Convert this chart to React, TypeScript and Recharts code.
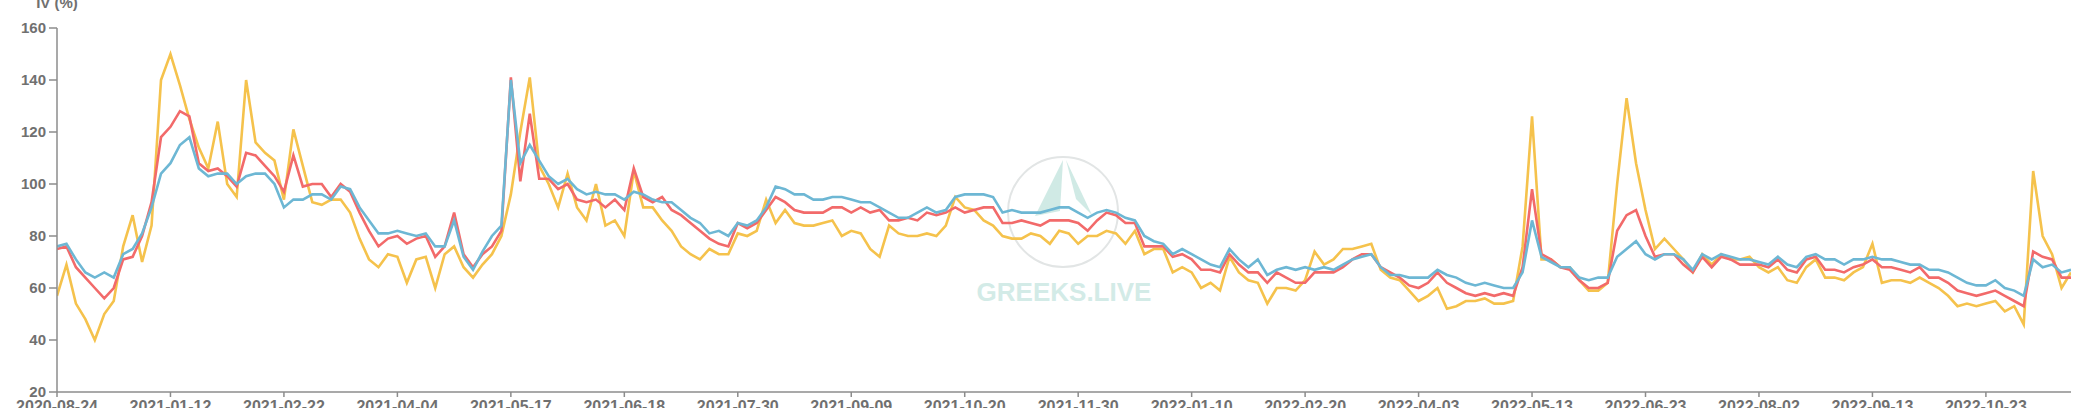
import React from 'react';
import { LineChart, Line, XAxis, YAxis } from 'recharts';

// Sampled IV values (%), one sample every ~3.4 days, left to right
const ivShort = [
  57, 69, 54, 48, 40, 50, 55, 76, 88, 70, 84, 140, 150, 138, 125, 114, 106, 124, 100, 95,
  140, 116, 112, 109, 94, 121, 107, 93, 92, 94, 94, 89, 79, 71, 68, 73, 72, 62, 71, 72,
  60, 73, 76, 68, 64, 69, 73, 80, 96, 120, 141, 107, 100, 91, 104, 91, 86, 100, 84, 86,
  80, 105, 91, 91, 86, 82, 76, 73, 71, 75, 73, 73, 81, 80, 82, 94, 85, 90, 85, 84,
  84, 85, 86, 80, 82, 81, 75, 72, 84, 81, 80, 80, 81, 80, 84, 95, 91, 90, 86, 84,
  80, 79, 79, 81, 80, 77, 82, 81, 77, 80, 80, 82, 81, 77, 82, 73, 75, 75, 66, 68,
  66, 60, 62, 59, 72, 66, 63, 62, 54, 60, 60, 59, 63, 74, 69, 71, 75, 75, 76, 77,
  67, 64, 63, 59, 55, 57, 60, 52, 53, 55, 55, 56, 54, 54, 55, 76, 126, 71, 71, 68,
  68, 63, 59, 59, 62, 100, 133, 108, 90, 75, 79, 75, 71, 66, 73, 69, 73, 71, 71, 72,
  68, 66, 68, 63, 62, 68, 71, 64, 64, 63, 66, 68, 77, 62, 63, 63, 62, 64, 62, 60,
  57, 53, 54, 53, 54, 55, 51, 53, 46, 105, 80, 73, 60, 66,
];
const ivMid = [
  75, 76, 68, 64, 60, 56, 60, 71, 72, 80, 93, 118, 122, 128, 126, 108, 105, 106, 103, 99,
  112, 111, 107, 103, 97, 111, 99, 100, 100, 95, 100, 97, 89, 82, 76, 79, 80, 77, 79, 80,
  72, 76, 89, 73, 68, 73, 76, 82, 141, 101, 127, 102, 102, 98, 100, 94, 93, 94, 91, 94,
  90, 106, 95, 93, 95, 90, 88, 85, 82, 79, 77, 76, 85, 83, 85, 90, 95, 93, 90, 89,
  89, 89, 91, 91, 89, 91, 89, 90, 86, 86, 87, 86, 89, 88, 89, 91, 89, 90, 91, 91,
  85, 85, 86, 85, 84, 86, 86, 86, 85, 82, 86, 89, 88, 85, 85, 76, 76, 76, 72, 73,
  71, 67, 67, 66, 73, 69, 66, 66, 62, 66, 64, 62, 62, 66, 66, 66, 68, 71, 73, 73,
  68, 66, 64, 61, 60, 62, 66, 62, 60, 58, 57, 58, 57, 58, 57, 68, 98, 73, 71, 68,
  67, 63, 60, 60, 62, 82, 88, 90, 80, 72, 73, 73, 69, 66, 72, 68, 72, 71, 69, 69,
  69, 68, 71, 67, 66, 71, 72, 67, 67, 66, 68, 69, 71, 68, 68, 67, 66, 68, 64, 64,
  62, 59, 58, 57, 58, 59, 57, 55, 53, 74, 72, 71, 64, 64,
];
const ivLong = [
  76, 77, 71, 66, 64, 66, 64, 73, 75, 81, 91, 104, 108, 115, 118, 106, 103, 104, 104, 100,
  103, 104, 104, 100, 91, 94, 94, 96, 96, 94, 99, 98, 91, 86, 81, 81, 82, 81, 80, 81,
  76, 76, 86, 72, 67, 74, 80, 84, 140, 108, 115, 109, 103, 100, 102, 98, 96, 97, 96, 96,
  94, 97, 96, 94, 93, 93, 90, 87, 85, 81, 82, 80, 85, 84, 86, 91, 99, 98, 96, 96,
  94, 94, 95, 95, 94, 93, 93, 91, 89, 87, 87, 89, 91, 89, 90, 95, 96, 96, 96, 95,
  89, 90, 89, 89, 89, 90, 91, 91, 89, 87, 89, 90, 89, 87, 86, 80, 78, 77, 73, 75,
  73, 71, 69, 68, 75, 71, 68, 71, 65, 67, 68, 67, 68, 67, 68, 67, 69, 71, 72, 73,
  68, 65, 65, 64, 64, 64, 67, 65, 64, 62, 61, 62, 61, 60, 60, 66, 86, 72, 70, 68,
  68, 64, 63, 64, 64, 72, 75, 78, 73, 71, 73, 73, 71, 67, 73, 71, 73, 72, 71, 71,
  70, 69, 72, 69, 68, 72, 73, 71, 71, 69, 71, 71, 72, 71, 71, 70, 69, 69, 67, 67,
  66, 64, 62, 61, 61, 63, 60, 59, 57, 71, 68, 69, 66, 67,
];

const tickLabels = [
  '2020-08-24', '2021-01-12', '2021-02-22', '2021-04-04', '2021-05-17', '2021-06-18',
  '2021-07-30', '2021-09-09', '2021-10-20', '2021-11-30', '2022-01-10', '2022-02-20',
  '2022-04-03', '2022-05-13', '2022-06-23', '2022-08-02', '2022-09-13', '2022-10-23',
];
const tickPositions = [0, 12, 24, 36, 48, 60, 72, 84, 96, 108, 120, 132, 144, 156, 168, 180, 192, 204];
const yTicks = [20, 40, 60, 80, 100, 120, 140, 160];

const data = ivShort.map((v, i) => ({ i, short: v, mid: ivMid[i], long: ivLong[i] }));

const AXIS = '#8c8c8c';
const LABEL = '#707070';
const FONT = '"Liberation Sans", Arial, sans-serif';
const tickStyle = { fill: LABEL, fontSize: 15, fontWeight: 700, fontFamily: FONT };
const xTickStyle = { fill: LABEL, fontSize: 16, fontWeight: 700, fontFamily: FONT };

function Watermark() {
  return (
    <svg width={2080} height={408} style={{ position: 'absolute', left: 0, top: 0 }}>
      <text x={57} y={8} textAnchor="middle" fill={LABEL} fontSize={15} fontWeight={700} fontFamily={FONT}>
        IV (%)
      </text>
      <circle cx={1063} cy={212} r={55} fill="none" stroke="#e2e5e5" strokeWidth={2} />
      <polygon points="1035,216 1063,160 1060,211" fill="#d0eae5" />
      <polygon points="1066,160 1092,215 1076,199" fill="#d0eae5" />
      <text x={1064} y={301} textAnchor="middle" fill="#d3ebe7" fontSize={26} fontWeight={700} fontFamily={FONT}>
        GREEKS.LIVE
      </text>
    </svg>
  );
}

export default function App() {
  return (
    <div style={{ position: 'absolute', left: 0, top: 0, width: 2080, height: 408, background: '#fff' }}>
      <Watermark />
      <div style={{ position: 'absolute', left: 0, top: 0 }}>
        <LineChart width={2080} height={408} data={data} margin={{ top: 28, right: 9, bottom: 0, left: 0 }}>
          <XAxis
            dataKey="i"
            type="number"
            domain={[0, 213]}
            allowDataOverflow
            ticks={tickPositions}
            interval={0}
            tickFormatter={(v: number) => tickLabels[tickPositions.indexOf(v)] ?? ''}
            height={16}
            tickSize={5}
            tickMargin={4}
            axisLine={{ stroke: AXIS, strokeWidth: 1.5 }}
            tickLine={{ stroke: AXIS, strokeWidth: 1.5 }}
            tick={xTickStyle}
          />
          <YAxis
            type="number"
            domain={[20, 160]}
            ticks={yTicks}
            interval={0}
            width={57}
            tickSize={8}
            tickMargin={3}
            axisLine={{ stroke: AXIS, strokeWidth: 1.5 }}
            tickLine={{ stroke: AXIS, strokeWidth: 1.5 }}
            tick={tickStyle}
          />
          <Line type="linear" dataKey="short" stroke="#f5c24c" strokeWidth={2.6} dot={false} isAnimationActive={false} />
          <Line type="linear" dataKey="mid" stroke="#f26a6a" strokeWidth={2.6} dot={false} isAnimationActive={false} />
          <Line type="linear" dataKey="long" stroke="#6db7d4" strokeWidth={2.6} dot={false} isAnimationActive={false} />
        </LineChart>
      </div>
    </div>
  );
}
